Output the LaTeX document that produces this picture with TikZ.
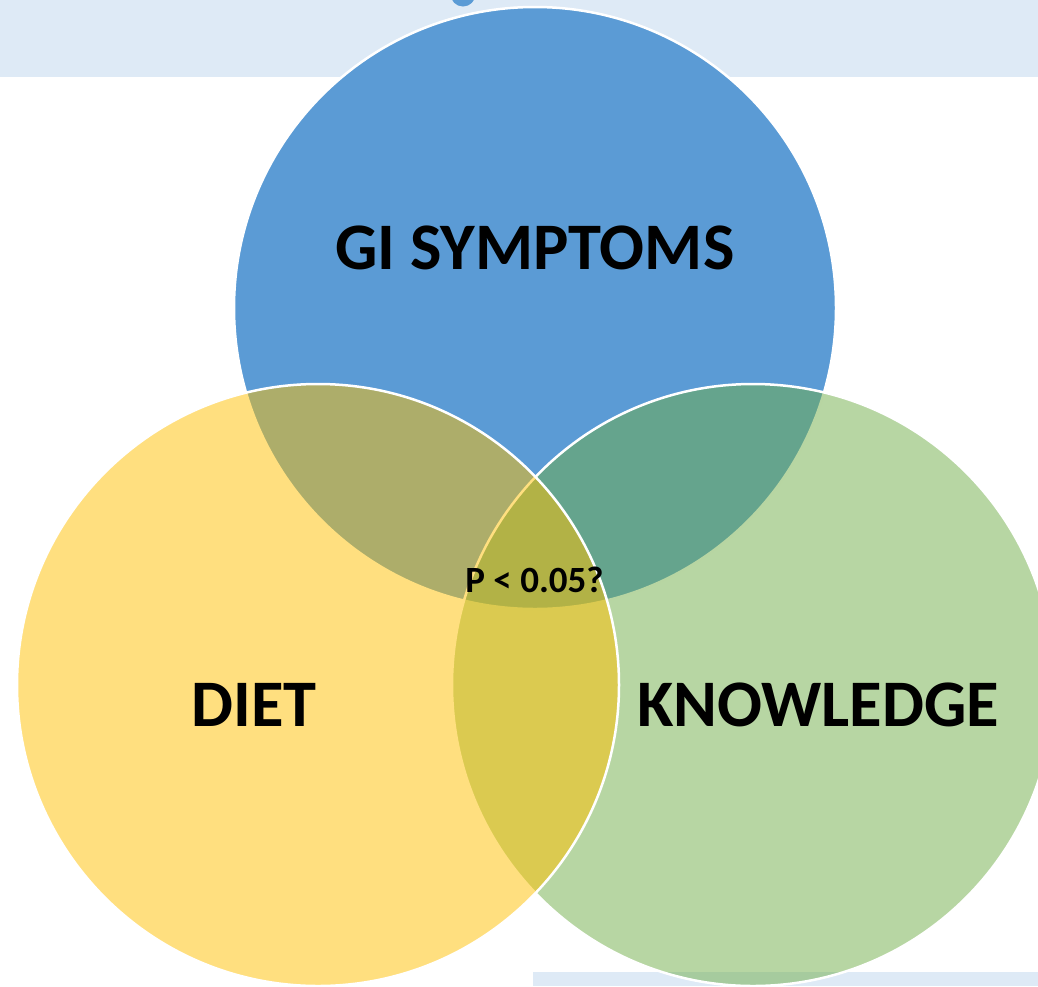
\documentclass[tikz,border=0pt]{standalone}
\usepackage{fontspec}
\setmainfont{Carlito}
\definecolor{band}{HTML}{DEEAF6}
\definecolor{cblue}{HTML}{5B9BD5}
\definecolor{cgreen}{HTML}{70AD47}
\definecolor{cyellow}{HTML}{FFC000}
\tikzset{
  venn/.style={circle, minimum size=602pt, inner sep=0pt, draw=white, line width=2.5pt},
  biglabel/.style={font=\bfseries\fontsize{66.5}{80}\selectfont, text=black, inner sep=0pt},
  smalllabel/.style={font=\bfseries\fontsize{37}{44}\selectfont, text=black, inner sep=0pt}
}
\begin{document}
\begin{tikzpicture}[x=1pt,y=-1pt]
\useasboundingbox (0,0) rectangle (1038,986);
\clip (0,0) rectangle (1038,986);
\fill[band] (0,0) rectangle (1038,77);
\fill[band] (533,972) rectangle (1038,986);
\fill[cblue] (463,-6) circle (12.5);
\node[venn, fill=cblue] (gi) at (535,308) {};
\node[venn, fill=cgreen, fill opacity=0.5] (kn) at (753,685) {};
\node[venn, fill=cyellow, fill opacity=0.5] (di) at (318,685) {};
\node[biglabel] (tgi) at (535,248) {GI SYMPTOMS};
\node[biglabel] (tdi) at (254,705) {DIET};
\node[biglabel] (tkn) at (818,705) {KNOWLEDGE};
\node[smalllabel] (tp) at (534.5,580) {P < 0.05?};
\end{tikzpicture}
\end{document}
